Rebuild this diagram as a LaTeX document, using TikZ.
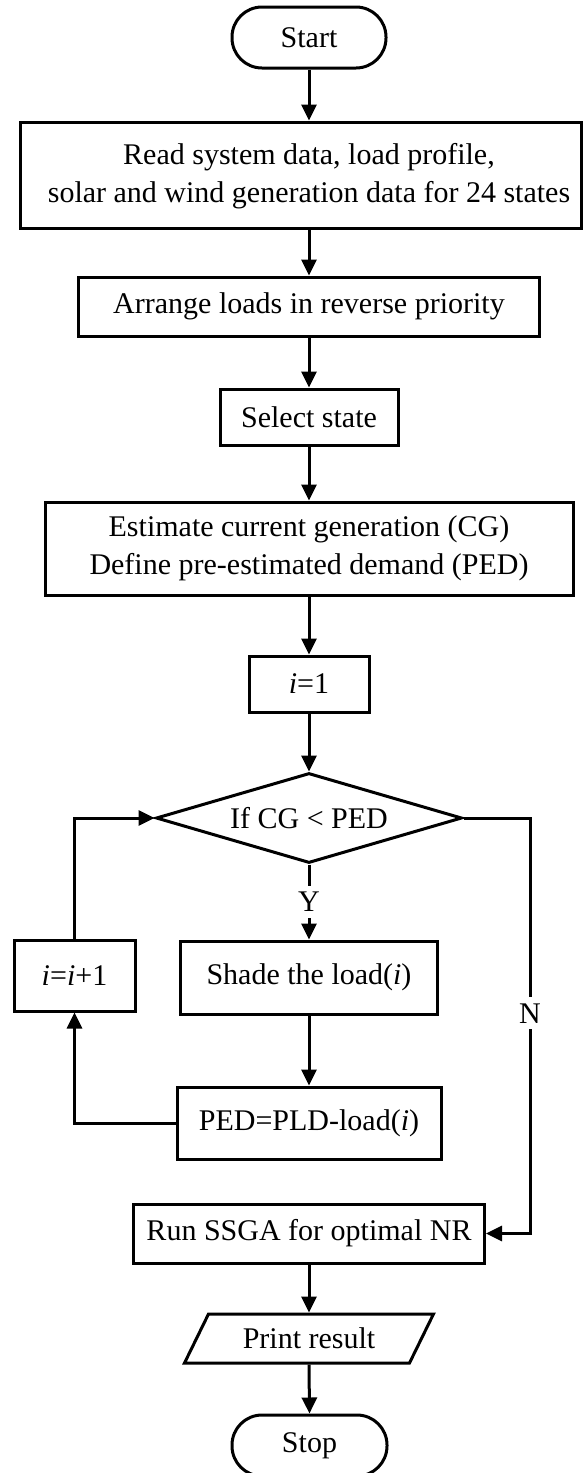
\documentclass[tikz,border=0pt]{standalone}
\usepackage{fontspec}
\setmainfont{Liberation Serif}
\usetikzlibrary{arrows.meta,shapes.geometric}
\begin{document}
\begin{tikzpicture}[x=1pt,y=-1pt,
  every node/.style={font=\fontsize{30}{38}\selectfont},
  box/.style={draw, line width=3pt, rectangle, inner sep=0pt, align=center},
  term/.style={box, rounded corners=30pt},
  decision/.style={draw, line width=3pt, diamond, aspect=3.4, inner sep=0pt},
  conn/.style={line width=3pt, -{Triangle[length=16pt,width=15pt]}},
  plain/.style={line width=3pt, line join=miter},
  lbl/.style={fill=white, inner xsep=2pt, inner ysep=6pt}
]
\useasboundingbox (0,0) rectangle (584,1473);

\node[term, minimum width=154pt, minimum height=61pt] (start) at (309,37.5) {Start};
\node[box, minimum width=561pt, minimum height=106pt] (read) at (300.5,175) {};
\node[inner sep=0pt, align=center] (readtxt) at (309,176) {Read system data, load profile,\\ solar and wind generation data for 24 states};
\node[box, minimum width=461pt, minimum height=59pt] (arr) at (309,306.5) {Arrange loads in reverse priority};
\node[box, minimum width=178pt, minimum height=56pt] (sel) at (309,417) {Select state};
\node[box, minimum width=528pt, minimum height=93pt] (est) at (309,548.5) {Estimate current generation (CG)\\ Define pre-estimated demand (PED)};
\node[box, minimum width=120pt, minimum height=56pt] (ini) at (309,684) {\textit{i}=1};
\node[decision, minimum width=306pt, minimum height=90pt] (cmp) at (309,818) {If CG < PED};
\node[box, minimum width=257pt, minimum height=73pt] (shade) at (309,977.5) {Shade the load(\textit{i})};
\node[box, minimum width=121pt, minimum height=71pt] (inc) at (74.5,975.5) {\textit{i}=\textit{i}+1};
\node[box, minimum width=264pt, minimum height=72pt] (ped) at (309,1123) {PED=PLD-load(\textit{i})};
\node[box, minimum width=351pt, minimum height=59pt] (run) at (309,1233.5) {Run SSGA for optimal NR};
\node[inner sep=0pt, outer sep=1.5pt, minimum width=222pt, minimum height=49pt] (pr) at (309,1338.5) {Print result};
\draw[plain] ([xshift=12pt,yshift=-1.5pt]pr.north west) -- ([xshift=12pt,yshift=-1.5pt]pr.north east)
  -- ([xshift=-12pt,yshift=1.5pt]pr.south east) -- ([xshift=-12pt,yshift=1.5pt]pr.south west) -- cycle;
\node[term, minimum width=155pt, minimum height=61pt] (stop) at (309.5,1445.5) {Stop};
\coordinate (nx) at (530,818);

\draw[conn] (start.south) -- (start.south |- read.north);
\draw[conn] (arr.north |- read.south) -- (arr.north);
\draw[conn] (arr.south) -- (sel.north);
\draw[conn] (sel.south) -- (est.north);
\draw[conn] (est.south) -- (ini.north);
\draw[conn] (ini.south) -- (cmp.north);
\draw[conn] (cmp.south) -- node[lbl]{Y} (shade.north);
\draw[conn] (shade.south) -- (ped.north);
\draw[conn] (ped.west) -| (inc.south);
\draw[conn] (inc.north) |- (cmp.west);
\draw[conn] (cmp.east) -- (nx) -- node[lbl, pos=0.47]{N} (nx |- run.east) -- (run.east);
\draw[conn] (run.south) -- (pr.north);
\draw[conn] (pr.south) -- (stop.north);
\end{tikzpicture}
\end{document}
